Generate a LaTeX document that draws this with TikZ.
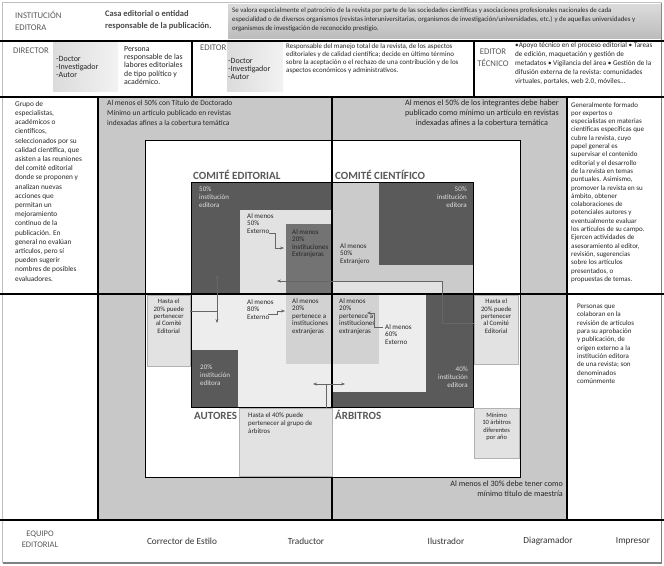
\documentclass[tikz,border=0pt]{standalone}
\usepackage{fontspec}
\setmainfont{Carlito}
\usetikzlibrary{positioning,arrows.meta,shadows}
\definecolor{bandgray}{HTML}{C8C8C8}
\definecolor{dark}{HTML}{5A5A5A}
\definecolor{middark}{HTML}{737373}
\definecolor{sci}{HTML}{CBCBCB}
\definecolor{pale}{HTML}{E2E2E2}
\definecolor{paler}{HTML}{EDEDED}
\definecolor{midgray}{HTML}{D2D2D2}
\definecolor{inkgray}{HTML}{595959}

\begin{document}
\begin{tikzpicture}[x=1pt, y=-1pt,
  every node/.style={inner sep=0pt},
  txt/.style={font=\fontsize{7}{8.2}\selectfont, align=left, anchor=north west, text=black!85},
  hdr/.style={font=\fontsize{8.7}{12}\selectfont, align=left, anchor=north west, text=inkgray},
  bandtxt/.style={font=\fontsize{7.5}{10}\selectfont, text=black!85},
  tiny/.style={font=\fontsize{7}{7.6}\selectfont, align=left, anchor=north west, text=black!85},
  wtiny/.style={tiny, text=white!88!black},
  comite/.style={font=\fontsize{11}{12}\selectfont\bfseries, text=inkgray, anchor=base west},
  hasta/.style={draw=black!30, fill=pale, anchor=north west, drop shadow={opacity=0.35, shadow xshift=1pt, shadow yshift=-1pt}},
  link/.style={draw=black!60, line width=0.5pt},
  tip/.style={link, -{Stealth[length=1.4mm, width=1.1mm]}},
  equipo/.style={font=\fontsize{9.3}{11}\selectfont, text=black!80},
  grid/.style={line width=1.2pt}
]
\useasboundingbox (0,0) rectangle (664,565);
\fill[white] (0,0) rectangle (664,565);
\draw[black!25] (2,2) rectangle (661,562);
\draw[black!50, line width=1.5pt] (661.5,3) -- (661.5,563) -- (3,563);

% cabecera
\shade[top color=black!14, bottom color=black!26] (228,4) rectangle (661,38);
\node[hdr] (inst) at (15,11) {INSTITUCIÓN\\EDITORA};
\node[hdr, font=\fontsize{8.5}{12}\selectfont\bfseries, text=black!72] (casa) at (105,10) {Casa editorial o entidad\\responsable de la publicación.};
\node[txt, font=\fontsize{6.85}{9}\selectfont] (patro) at (232,8) {Se valora especialmente el patrocinio de la revista por parte de las sociedades científicas y asociaciones profesionales nacionales de cada\\especialidad o de diversos organismos (revistas interuniversitarias, organismos de investigación/universidades, etc.) y de aquellas universidades y\\organismos de investigación de reconocido prestigio.};

\shade[left color=black!14, right color=black!5] (53,42) rectangle (118,91);
\shade[left color=black!14, right color=black!5] (227,42) rectangle (283,91);
\node[hdr] (dir) at (13,48) {DIRECTOR};
\node[txt, font=\fontsize{8}{8.3}\selectfont] (dirreq) at (56,56) {-Doctor\\-Investigador\\-Autor};
\node[txt, font=\fontsize{7.8}{8.3}\selectfont] (dirdef) at (124,46) {Persona\\responsable de las\\labores editoriales\\de tipo político y\\académico.};
\node[hdr] (edi) at (200,45) {EDITOR};
\node[txt, font=\fontsize{8}{8.3}\selectfont] (edireq) at (228,58) {-Doctor\\-Investigador\\-Autor};
\node[txt] (edidef) at (286,43) {Responsable del manejo total de la revista, de los aspectos\\editoriales y de calidad científica; decide en último término\\sobre la aceptación o el rechazo de una contribución y de los\\aspectos económicos y administrativos.};
\node[hdr, align=center, anchor=north] (tec) at (493,49) {EDITOR\\TÉCNICO};
\node[txt, font=\fontsize{7.2}{9}\selectfont] (tecdef) at (515,42) {•Apoyo técnico en el proceso editorial • Tareas\\de edición, maquetación y gestión de\\metadatos • Vigilancia del área • Gestión de la\\difusión externa de la revista: comunidades\\virtuales, portales, web 2.0, móviles...};

% banda gris y cuadro interior
\fill[bandgray] (98,97) rectangle (567,520);
\draw[fill=white, line width=0.9pt] (145,140) rectangle (520,477);

% comite editorial
\fill[dark] (191,182) rectangle (332,294);
\fill[pale] (240,210) rectangle (332,294);
\fill[middark] (286,224) rectangle (332,294);
% comite cientifico
\fill[sci] (332,182) rectangle (473,294);
\fill[dark] (379,182) rectangle (473,265);
\fill[pale] (332,281) rectangle (442,294);
% autores
\fill[paler] (191,294) rectangle (332,407);
\fill[dark] (191,350) rectangle (238,407);
\fill[midgray] (286,294) rectangle (332,364);
% arbitros
\fill[dark] (332,294) rectangle (473,407);
\fill[paler] (332,294) rectangle (426,392);
\fill[midgray] (332,294) rectangle (379,364);
\draw[line width=0.7pt] (191,182) rectangle (473,407);

% lineas
\draw[grid] (0,41) -- (664,41);
\draw[grid] (0,97) -- (664,97);
\draw[grid] (0,294) -- (664,294);
\draw[grid] (0,520) -- (664,520);
\draw[grid] (192,41) -- (192,97);
\draw[grid] (474,41) -- (474,97);
\draw[grid] (98,97) -- (98,520);
\draw[grid] (332,97) -- (332,520);
\draw[grid] (567,97) -- (567,520);

% columnas laterales
\node[txt, font=\fontsize{7.3}{9.2}\selectfont] (grupo) at (15,101) {Grupo de\\especialistas,\\académicos o\\científicos,\\seleccionados por su\\calidad científica, que\\asisten a las reuniones\\del comité editorial\\donde se proponen y\\analizan nuevas\\acciones que\\permitan un\\mejoramiento\\continuo de la\\publicación. En\\general no evalúan\\artículos, pero sí\\pueden sugerir\\nombres de posibles\\evaluadores.};
\node[txt, font=\fontsize{7}{8.3}\selectfont] (expertos) at (571,102) {Generalmente formado\\por expertos o\\especialistas en materias\\científicas específicas que\\cubre la revista, cuyo\\papel general es\\supervisar el contenido\\editorial y el desarrollo\\de la revista en temas\\puntuales. Asimismo,\\promover la revista en su\\ámbito, obtener\\colaboraciones de\\potenciales autores y\\eventualmente evaluar\\los artículos de su campo.\\Ejercen actividades de\\asesoramiento al editor,\\revisión, sugerencias\\sobre los artículos\\presentados, o\\propuestas de temas.};
\node[txt, font=\fontsize{7}{8.3}\selectfont] (personas) at (577,304) {Personas que\\colaboran en la\\revisión de artículos\\para su aprobación\\y publicación, de\\origen externo a la\\institución editora\\de una revista; son\\denominados\\comúnmente};

% textos de la banda
\node[bandtxt, align=left, anchor=north west] (doct) at (107,100) {Al menos el 50\% con Título de Doctorado\\Mínimo un artículo publicado en revistas\\indexadas afines a la cobertura temática};
\node[bandtxt, font=\fontsize{8.1}{10}\selectfont, align=center, anchor=north east] (integ) at (559,100) {Al menos el 50\% de los integrantes debe haber\\publicado como mínimo un artículo en revistas\\indexadas afines a la cobertura temática};
\node[bandtxt, font=\fontsize{8.1}{10}\selectfont, align=right, anchor=north east] (maest) at (563,481) {Al menos el 30\% debe tener como\\mínimo título de maestría};

% rotulos
\node[comite] (ce) at (193,179) {COMITÉ EDITORIAL};
\node[comite] (cc) at (335,179) {COMITÉ CIENTÍFICO};
\node[comite] (au) at (194,419) {AUTORES};
\node[comite] (ar) at (335,419) {ÁRBITROS};

% textos internos
\node[wtiny] (ce50) at (199,187) {50\%\\institución\\editora};
\node[tiny] (ext50) at (247,213) {Al menos\\50\%\\Externo};
\node[tiny] (extr20) at (292,229) {Al menos\\20\%\\Instituciones\\Extranjeras};
\node[wtiny, align=right, anchor=north east] (cc50) at (467,187) {50\%\\institución\\editora};
\node[tiny] (extr50) at (340,243) {Al menos\\50\%\\Extranjero};
\node[tiny] (ext80) at (247,299) {Al menos\\80\%\\Externo};
\node[tiny] (au20) at (292,298) {Al menos\\20\%\\pertenece a\\instituciones\\extranjeras};
\node[wtiny] (auinst) at (200,365) {20\%\\institución\\editora};
\node[tiny] (ar20) at (339,298) {Al menos\\20\%\\pertenece a\\instituciones\\extranjeras};
\node[tiny] (ext60) at (385,324) {Al menos\\60\%\\Externo};
\node[wtiny, align=right, anchor=north east] (ar40) at (468,367) {40\%\\institución\\editora};

% cajas laterales
\node[hasta, minimum width=43, minimum height=71] (hl) at (147,295) {};
\node[tiny, font=\fontsize{6.7}{7.3}\selectfont, align=center, anchor=north] at ([yshift=-4pt]hl.north) {Hasta el\\20\% puede\\pertenecer\\al Comité\\Editorial};
\node[hasta, minimum width=44, minimum height=69] (hr) at (474,295) {};
\node[tiny, font=\fontsize{6.7}{7.3}\selectfont, align=center, anchor=north] at ([yshift=-4pt]hr.north) {Hasta el\\20\% puede\\pertenecer\\al Comité\\Editorial};
\node[hasta, minimum width=45, minimum height=50] (min10) at (474,408) {};
\node[tiny, font=\fontsize{6.5}{7.3}\selectfont, align=center, anchor=north] at ([yshift=-5pt]min10.north) {Mínimo\\10 árbitros\\diferentes\\por año};
\node[hasta, minimum width=93, minimum height=68] (h40) at (239,408) {};
\node[tiny, font=\fontsize{6.9}{7.8}\selectfont] at (248,413) {Hasta el 40\% puede\\pertenecer al grupo de\\árbitros};

% conectores
\coordinate (jl) at (217,311);
\coordinate (jlup) at (217,275);
\coordinate (jldn) at (217,323);
\draw[link] (hl.east |- jl) -- (jl);
\draw[tip] (jl) -- (jlup);
\draw[tip] (jl) -- (jldn);

\coordinate (jr) at (442,323);
\coordinate (jrtip) at (277,281);
\draw[tip] (hr.west |- jr) -- (jr) |- (jrtip);

\coordinate (jb) at (326,384);
\coordinate (jbl) at (313,384);
\coordinate (jbr) at (345,384);
\draw[link] (h40.north -| jb) -- (jb);
\draw[tip] (jb) -- (jbl);
\draw[tip] (jb) -- (jbr);

\coordinate (e50) at (269,233);
\coordinate (t50) at (284,248);
\draw[tip] (e50) -- ++(6,0) |- (t50);
\coordinate (e80) at (268,314);
\coordinate (t80) at (285,311);
\draw[tip] (e80) -- ++(9,0) |- (t80);
\coordinate (e60) at (383,327);
\coordinate (t60) at (367,313);
\draw[tip] (e60) -- ++(-9,0) |- (t60);

% equipo editorial
\node[hdr, font=\fontsize{8.5}{11}\selectfont, align=center, anchor=center] (equipo) at (40,539) {EQUIPO\\EDITORIAL};
\node[equipo] (corr) at (182,541) {Corrector de Estilo};
\node[equipo] (trad) at (306,541) {Traductor};
\node[equipo] (ilus) at (446,541) {Ilustrador};
\node[equipo] (diag) at (548,541) {Diagramador};
\node[equipo] (impr) at (633,541) {Impresor};
\end{tikzpicture}
\end{document}
